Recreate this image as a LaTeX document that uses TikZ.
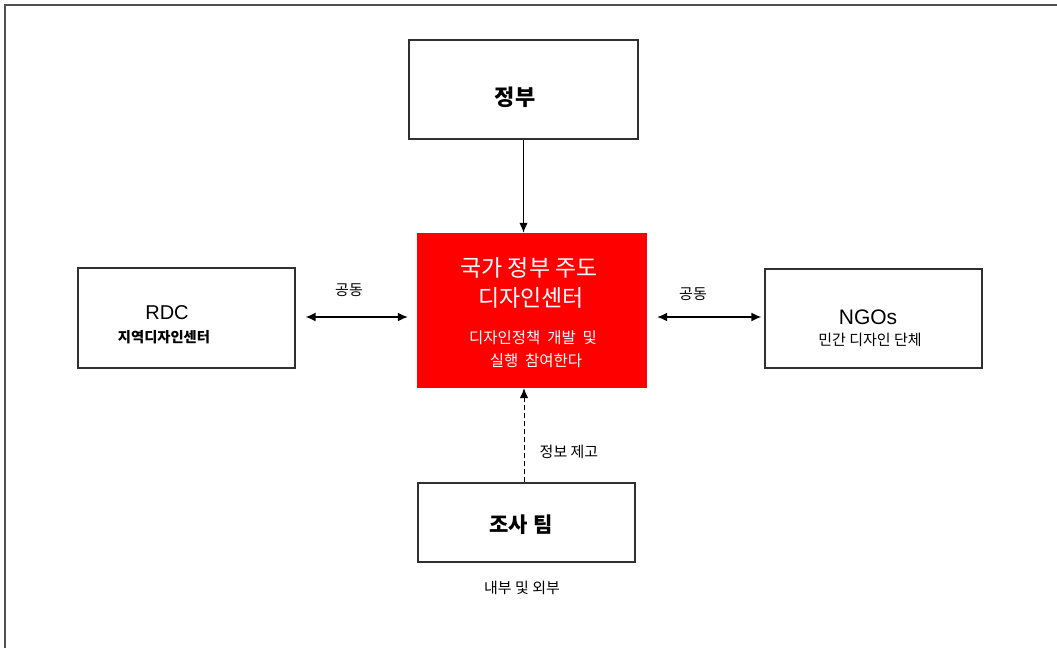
\documentclass[tikz,border=0pt]{standalone}
\usepackage{fontspec}
\setmainfont{Noto Sans CJK KR}
\newfontfamily\latinsans{Liberation Sans}
\usetikzlibrary{arrows.meta}
\definecolor{framegray}{HTML}{505050}
\definecolor{boxgray}{HTML}{303030}
\definecolor{mainred}{HTML}{FF0000}
\tikzset{
  box/.style={draw=boxgray, line width=1.3pt, fill=white, inner sep=0pt},
  redbox/.style={fill=mainred, draw=none, inner sep=0pt},
  conn/.style={draw=black, line width=1.3pt, -{Latex[length=10pt,width=8.5pt]}},
  biconn/.style={draw=black, line width=1.5pt, {Latex[length=10pt,width=9pt]}-{Latex[length=10pt,width=9pt]}},
  lbl/.style={inner sep=0pt, font=\fontsize{15}{17}\selectfont},
}
\begin{document}
\begin{tikzpicture}[x=1pt,y=-1pt]
\useasboundingbox (0,0) rectangle (1057,648);
\fill[white] (0,0) rectangle (1057,648);
\draw[framegray, line width=2pt] (4.5,648) -- (4.5,4.5) -- (1057,4.5);

% boxes
\node[box, minimum width=229pt, minimum height=99pt] (gov) at (523.5,89.5) {};
\node[redbox, minimum width=230pt, minimum height=155pt] (center) at (532,310.5) {};
\node[box, minimum width=217pt, minimum height=100pt] (rdc) at (186.5,318) {};
\node[box, minimum width=217pt, minimum height=99pt] (ngo) at (873.5,318.5) {};
\node[box, minimum width=217pt, minimum height=79pt] (survey) at (526.5,522.5) {};

% texts
\node[inner sep=0pt, font=\bfseries\fontsize{22}{24}\selectfont] (govt) at (515,97) {정부};
\node[inner sep=0pt, text=white, font=\fontsize{23}{25}\selectfont] (ct1) at (529,268) {국가 정부 주도};
\node[inner sep=0pt, text=white, font=\fontsize{23}{25}\selectfont] (ct2) at (531,298) {디자인센터};
\node[inner sep=0pt, text=white, font=\fontsize{15.5}{17}\selectfont] (ct3) at (533,338) {디자인정책~~개발~~및};
\node[inner sep=0pt, text=white, font=\fontsize{15.5}{17}\selectfont] (ct4) at (536,361) {실행~~참여한다};
\node[inner sep=0pt, font=\latinsans\fontsize{20}{22}\selectfont] (rdct1) at (167,313) {RDC};
\node[inner sep=0pt, font=\bfseries\fontsize{14.3}{16}\selectfont] (rdct2) at (164,337) {지역디자인센터};
\node[inner sep=0pt, font=\latinsans\fontsize{21}{23}\selectfont] (ngot1) at (868,317) {NGOs};
\node[inner sep=0pt, font=\fontsize{15}{17}\selectfont] (ngot2) at (870,340) {민간 디자인 단체};
\node[inner sep=0pt, font=\bfseries\fontsize{21}{23}\selectfont] (survt) at (521,525) {조사 팀};

% labels
\node[lbl] (lab1) at (349,290) {공동};
\node[lbl] (lab2) at (693,294) {공동};
\node[lbl] (lab3) at (569,452) {정보~제고};
\node[lbl] (lab4) at (522,588) {내부~및~외부};

% connectors
\draw[conn] (gov.south) -- (gov.south |- center.north);
\draw[conn, dashed, dash pattern=on 5pt off 3pt, line width=1pt] ([xshift=-2.5pt]survey.north) -- ([xshift=-2.5pt]survey.north |- center.south);
\draw[biconn, shorten <=10pt, shorten >=9pt] ([yshift=1pt]rdc.east) -- ([yshift=1pt]rdc.east -| center.west);
\draw[biconn, shorten <=10pt, shorten >=3pt] ([yshift=1.5pt]ngo.west -| center.east) -- ([yshift=1.5pt]ngo.west);
\end{tikzpicture}
\end{document}
